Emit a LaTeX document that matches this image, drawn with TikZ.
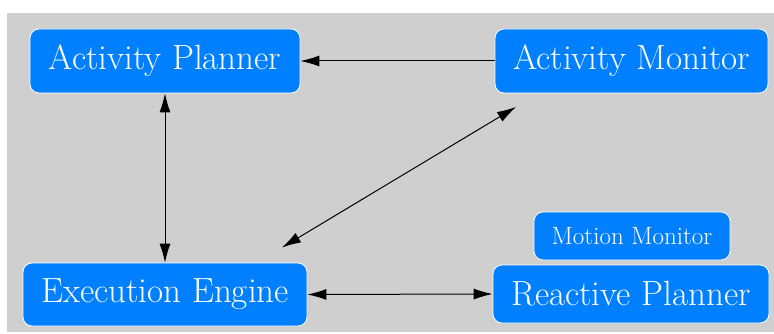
\documentclass[tikz,border=0pt]{standalone}
\usepackage{fontspec}
\usetikzlibrary{arrows.meta}
\definecolor{bggray}{RGB}{207,207,207}
\definecolor{boxblue}{RGB}{0,128,255}
\begin{document}
\begin{tikzpicture}[x=1pt,y=-1pt,
  box/.style={rectangle, rounded corners=9pt, fill=boxblue, draw=white, line width=0.8pt,
    text=white, inner sep=0pt, font=\fontsize{35}{40}\selectfont},
  smallbox/.style={box, font=\fontsize{25}{29}\selectfont},
  conn/.style={line width=1pt, -{Latex[length=19pt,width=11pt]}},
  dconn/.style={line width=1pt, {Latex[length=19pt,width=11pt]}-{Latex[length=19pt,width=11pt]}}]
\useasboundingbox (0,0) rectangle (774,334);
\fill[bggray] (7,13) rectangle (774,332);
\node[box, minimum width=270pt, minimum height=64pt] (ap) at (165,61) {Activity Planner};
\node[box, minimum width=273pt, minimum height=64pt] (am) at (631.5,61) {Activity Monitor};
\node[box, minimum width=284pt, minimum height=63pt] (ee) at (165,294.5) {Execution Engine};
\node[smallbox, minimum width=196pt, minimum height=48pt] (mm) at (632,236) {Motion Monitor};
\node[box, minimum width=276pt, minimum height=58pt] (rp) at (631,294) {Reactive Planner};
\coordinate (d1) at (282,247.5);
\coordinate (d2) at (516,107);
\draw[conn] (am.west) -- (ap.east);
\draw[dconn] (ap.south) -- (ee.north);
\draw[dconn] (d1) -- (d2);
\draw[dconn] (ee.east) -- (rp.west);
\end{tikzpicture}
\end{document}
